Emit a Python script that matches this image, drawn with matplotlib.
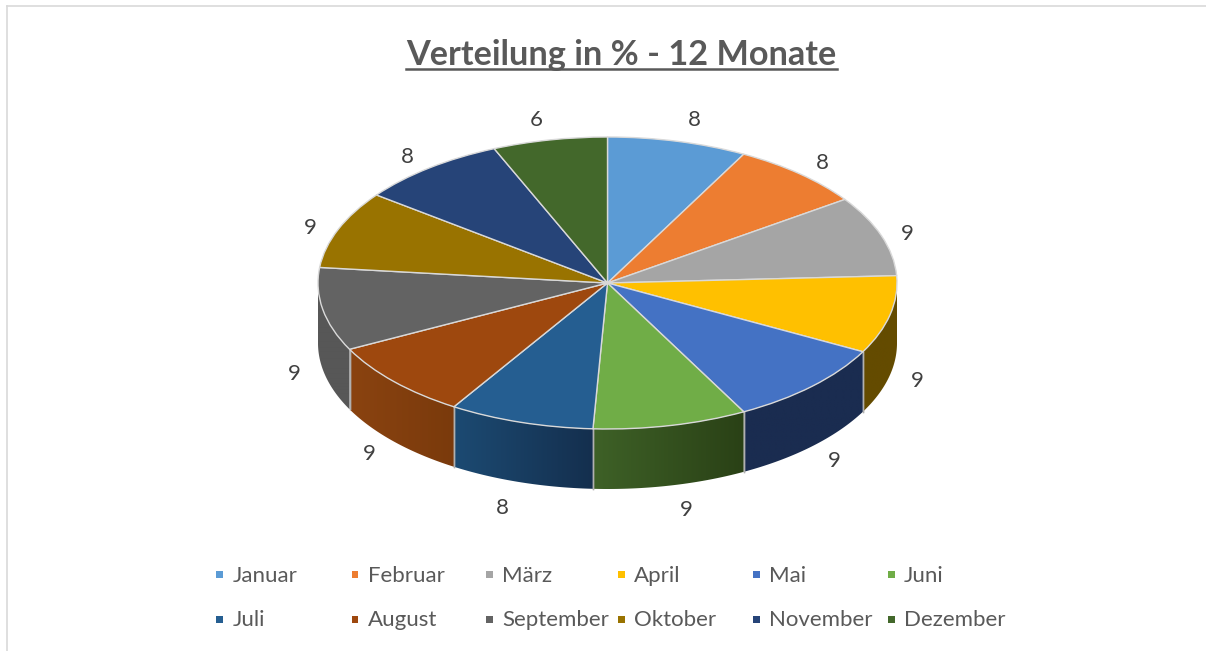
# plot.py - 3D looking pie of monthly shares, drawn on a flattened unit circle

import numpy as np
import matplotlib
matplotlib.use("Agg")
import matplotlib.pyplot as plt
from matplotlib.colors import to_rgb
from matplotlib.patches import Polygon, Rectangle
from matplotlib.lines import Line2D

MONTHS = ["Januar", "Februar", "März", "April", "Mai", "Juni",
          "Juli", "August", "September", "Oktober", "November", "Dezember"]
SHARES = [7.8, 7.5, 8.9, 8.6, 9.4, 8.6, 8.1, 8.6, 9.2, 8.6, 8.3, 6.4]
TOP_COLOURS = ["#5b9bd5", "#ed7d31", "#a5a5a5", "#ffc000", "#4472c4", "#70ad47",
               "#255e91", "#9e480e", "#636363", "#997300", "#264478", "#43682b"]
# rim shading per month, from the left end to the right end of the slice
RIM_LEFT = ["#000000", "#000000", "#000000", "#644b00", "#1a2c50", "#3e6127",
            "#1c4a72", "#8a4310", "#575757", "#000000", "#000000", "#000000"]
RIM_RIGHT = ["#000000", "#000000", "#000000", "#644b00", "#1a2c50", "#2a4116",
             "#142f4e", "#7a3a0c", "#575757", "#000000", "#000000", "#000000"]
# hand nudges for the data labels, pixels right and down
LABEL_NUDGE = [(10, -7), (4, 0), (-1, 3), (-1, 3), (2, 4), (9, 10),
               (-10, 12), (-3, 3), (0, 2), (-1, 4), (-4, 1), (-8, -6)]

TITLE = "Verteilung in % - 12 Monate"
TEXT_GREY = "#595959"
LABEL_GREY = "#404040"
EDGE_GREY = "#d9d9d9"

W, H = 1206, 651
CX, CY, RX, RY = 607.5, 283, 289.5, 146
DEPTH = 60 / RY
plt.rcParams["font.family"] = ["Lato", "DejaVu Sans"]


def px(x, y):
    return x / W, 1 - y / H


def draw_rim(ax, wedge, left, right):
    # theta counts counterclockwise from +x, only the lower half shows a rim
    theta1, theta2 = wedge.theta1 % 360, wedge.theta2 % 360
    if theta2 < theta1:
        theta2 += 360
    lo, hi = max(theta1, 180), min(theta2, 360)
    if hi <= lo:
        return
    t = np.radians(np.linspace(lo, hi, 60))
    xs = np.r_[np.cos(t), np.cos(t[::-1])]
    ys = np.r_[np.sin(t), np.sin(t[::-1]) - DEPTH]

    shade = np.linspace(to_rgb(left), to_rgb(right), 64)[np.newaxis, :, :]
    img = ax.imshow(shade, extent=(xs.min(), xs.max(), ys.min(), ys.max()),
                    aspect="auto", interpolation="bilinear", zorder=1)
    clip = Polygon(np.c_[xs, ys], transform=ax.transData, fc="none", ec="none")
    ax.add_patch(clip)
    img.set_clip_path(clip)

    for ang in np.radians([lo, hi]):
        if np.sin(ang) < -0.01:
            ax.plot([np.cos(ang)] * 2, [np.sin(ang), np.sin(ang) - DEPTH],
                    color="#b0b0b0", lw=1.0, zorder=2)


fig = plt.figure(figsize=(W / 100, H / 100), dpi=100, facecolor="white")
ax = fig.add_axes([0, 0, 1, 1])

wedges, _ = ax.pie(
    SHARES, colors=TOP_COLOURS, startangle=90, counterclock=False,
    wedgeprops={"edgecolor": EDGE_GREY, "linewidth": 1.0, "zorder": 3},
)
for wedge, left, right in zip(wedges, RIM_LEFT, RIM_RIGHT):
    draw_rim(ax, wedge, left, right)

ax.set_aspect("auto")
ax.set_xlim(-CX / RX, (W - CX) / RX)
ax.set_ylim(-(H - CY) / RY, CY / RY)
ax.axis("off")

# data labels around the slices, pushed below the rim on the lower half
for wedge, share, (dx, dy) in zip(wedges, SHARES, LABEL_NUDGE):
    mid = np.radians((wedge.theta1 + wedge.theta2) / 2)
    x, y = 1.10 * np.cos(mid), 1.10 * np.sin(mid)
    if y < 0:
        y -= DEPTH
    ax.text(x + dx / RX, y - dy / RY, f"{share:.0f}", ha="center", va="center",
            color=LABEL_GREY, fontsize=16)

# title with its underline
title = fig.text(*px(621.5, 55), TITLE, ha="center", va="center",
                 color=TEXT_GREY, fontsize=24.7, fontweight="bold")
fig.canvas.draw()
box = title.get_window_extent()
fig.add_artist(Line2D([box.x0 / W, box.x1 / W], [1 - 68.5 / H] * 2,
                      color=TEXT_GREY, lw=1.8))

# legend on a fixed grid, two rows of six
LEG_X = [220, 355, 489, 621, 756, 891]
LEG_Y = [574, 619]
for i, (month, colour) in enumerate(zip(MONTHS, TOP_COLOURS)):
    x, y = LEG_X[i % 6], LEG_Y[i // 6]
    fx, fy = px(x - 3.5, y + 3.5)
    fig.add_artist(Rectangle((fx, fy), 7 / W, 7 / H, color=colour, lw=0,
                             transform=fig.transFigure))
    fig.text(*px(x + 13, y + 1.5), month, ha="left", va="center",
             color=TEXT_GREY, fontsize=16)

# chart frame, only top and left fall inside the crop
fig.add_artist(Line2D([7 / W, 1], [1 - 6 / H] * 2, color=EDGE_GREY, lw=1.2))
fig.add_artist(Line2D([7 / W] * 2, [0, 1 - 6 / H], color=EDGE_GREY, lw=1.2))

fig.savefig("out.png", dpi=100, facecolor="white")
